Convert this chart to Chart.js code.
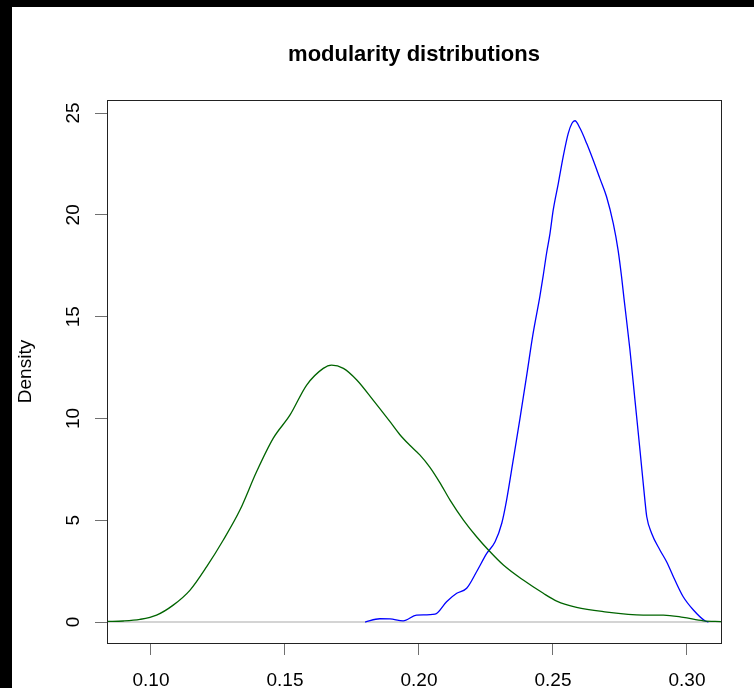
<!DOCTYPE html>
<html>
<head>
<meta charset="utf-8">
<script src="https://cdn.jsdelivr.net/npm/chart.js@4/dist/chart.umd.min.js"></script>
<style>
  html, body { margin: 0; padding: 0; background: #fff; overflow: hidden; }
  #wrap { position: relative; width: 754px; height: 688px; }
</style>
</head>
<body>
<div id="wrap"><canvas id="c" width="754" height="688"></canvas></div>
<script>
// Kernel density estimates of modularity (x) vs density (y)
const greenX = [0.0836, 0.0897, 0.0959, 0.1021, 0.1083, 0.1146, 0.1208, 0.1270, 0.1332, 0.1394,
                0.1456, 0.1519, 0.1581, 0.1643, 0.1674, 0.1718, 0.1768, 0.1829, 0.1892, 0.1929,
                0.1966, 0.2004, 0.2041, 0.2078, 0.2116, 0.2166, 0.2215, 0.2259, 0.2315, 0.2389,
                0.2464, 0.2514, 0.2588, 0.2688, 0.2837, 0.2912, 0.2986, 0.3061, 0.3127];
const greenY = [0.03, 0.05, 0.13, 0.34, 0.83, 1.57, 2.72, 4.03, 5.50, 7.38,
                9.02, 10.17, 11.64, 12.46, 12.62, 12.46, 11.89, 10.90, 9.84, 9.20,
                8.68, 8.20, 7.60, 6.85, 5.99, 5.01, 4.19, 3.54, 2.80, 2.06,
                1.41, 1.03, 0.72, 0.51, 0.34, 0.34, 0.23, 0.06, 0.02];

const blueX = [0.1799, 0.1854, 0.1892, 0.1941, 0.1991, 0.2060, 0.2103, 0.2141, 0.2178, 0.2215,
               0.2253, 0.2284, 0.2309, 0.2327, 0.2351, 0.2377, 0.2403, 0.2425, 0.2451, 0.2463,
               0.2476, 0.2489, 0.2501, 0.2520, 0.2538, 0.2557, 0.2571, 0.2582, 0.2601, 0.2626,
               0.2650, 0.2675, 0.2700, 0.2725, 0.2743, 0.2756, 0.2765, 0.2787, 0.2806, 0.2825,
               0.2843, 0.2850, 0.2868, 0.2899, 0.2924, 0.2955, 0.2986, 0.3024, 0.3067, 0.3080];
const blueY = [0.00, 0.16, 0.15, 0.06, 0.34, 0.39, 1.00, 1.41, 1.66, 2.47,
               3.37, 3.94, 4.85, 5.99, 7.90, 10.00, 12.20, 14.10, 15.98, 16.96,
               18.10, 19.09, 20.24, 21.55, 22.85, 24.00, 24.50, 24.62, 24.25, 23.50,
               22.69, 21.79, 20.89, 19.58, 18.27, 16.96, 15.90, 13.40, 10.90, 8.40,
               5.99, 5.17, 4.36, 3.54, 2.96, 2.06, 1.24, 0.59, 0.06, 0.00];

const xTicks = [0.10, 0.15, 0.20, 0.25, 0.30];
const yTicks = [0, 5, 10, 15, 20, 25];

const titleText = 'modularity distributions';
const yTitleText = 'Density';

const FONT = '"Liberation Sans", Arial, Helvetica, sans-serif';

function toPoints(xs, ys) {
  return xs.map((x, i) => ({ x: x, y: ys[i] }));
}

// page frame, zero line, plot box and titles
const decor = {
  id: 'decor',
  beforeDraw(chart) {
    const ctx = chart.ctx;
    const w = chart.width, h = chart.height;
    ctx.save();
    ctx.fillStyle = '#ffffff';
    ctx.fillRect(0, 0, w, h);
    ctx.fillStyle = '#000000';
    ctx.fillRect(0, 0, w, 7);
    ctx.fillRect(0, 0, 12, h);
    ctx.restore();
  },
  beforeDatasetsDraw(chart) {
    const ctx = chart.ctx;
    const a = chart.chartArea;
    const y0 = Math.round(chart.scales.y.getPixelForValue(0));
    ctx.save();
    ctx.strokeStyle = '#d4d4d4';
    ctx.lineWidth = 2;
    ctx.beginPath();
    ctx.moveTo(a.left, y0);
    ctx.lineTo(a.right, y0);
    ctx.stroke();
    ctx.restore();
  },
  afterDraw(chart) {
    const ctx = chart.ctx;
    const a = chart.chartArea;
    ctx.save();
    ctx.strokeStyle = '#222222';
    ctx.lineWidth = 1;
    ctx.strokeRect(Math.round(a.left) + 0.5, Math.round(a.top) + 0.5,
                   Math.round(a.right - a.left), Math.round(a.bottom - a.top));
    ctx.fillStyle = '#000000';
    ctx.font = 'bold 22px ' + FONT;
    ctx.textAlign = 'center';
    ctx.textBaseline = 'middle';
    ctx.fillText(titleText, (a.left + a.right) / 2, 55);
    ctx.font = '19px ' + FONT;
    ctx.translate(26, (a.top + a.bottom) / 2);
    ctx.rotate(-Math.PI / 2);
    ctx.fillText(yTitleText, 0, 0);
    ctx.restore();
  }
};

new Chart(document.getElementById('c'), {
  type: 'line',
  data: {
    datasets: [
      {
        data: toPoints(greenX, greenY),
        borderColor: '#006400',
        borderWidth: 1.3,
        pointRadius: 0,
        tension: 0.4,
        cubicInterpolationMode: 'monotone',
        fill: false
      },
      {
        data: toPoints(blueX, blueY),
        borderColor: '#0000ff',
        borderWidth: 1.3,
        pointRadius: 0,
        tension: 0.4,
        cubicInterpolationMode: 'monotone',
        fill: false
      }
    ]
  },
  options: {
    responsive: false,
    animation: false,
    devicePixelRatio: 1,
    layout: { padding: { top: 100, right: 33, left: 0, bottom: 0 } },
    plugins: {
      legend: { display: false },
      tooltip: { enabled: false },
      title: { display: false }
    },
    scales: {
      x: {
        type: 'linear',
        min: 0.0836,
        max: 0.3127,
        afterBuildTicks(scale) { scale.ticks = xTicks.map(v => ({ value: v })); },
        afterFit(scale) { scale.height = 45; },
        border: { display: false },
        grid: {
          drawOnChartArea: false,
          drawTicks: true,
          tickLength: 12,
          tickColor: '#707070',
          tickWidth: 1
        },
        ticks: {
          color: '#000000',
          font: { family: FONT, size: 19 },
          padding: 14,
          maxRotation: 0,
          minRotation: 0,
          callback: v => v.toFixed(2)
        }
      },
      y: {
        type: 'linear',
        min: -1.03,
        max: 25.64,
        afterBuildTicks(scale) { scale.ticks = yTicks.map(v => ({ value: v })); },
        afterFit(scale) { scale.width = 107; },
        border: { display: false },
        grid: {
          drawOnChartArea: false,
          drawTicks: true,
          tickLength: 12,
          tickColor: '#707070',
          tickWidth: 1
        },
        ticks: {
          color: '#000000',
          font: { family: FONT, size: 19 },
          padding: 11,
          minRotation: 90,
          maxRotation: 90,
          crossAlign: 'center',
          callback: v => String(v)
        }
      }
    }
  },
  plugins: [decor]
});
</script>
</body>
</html>
